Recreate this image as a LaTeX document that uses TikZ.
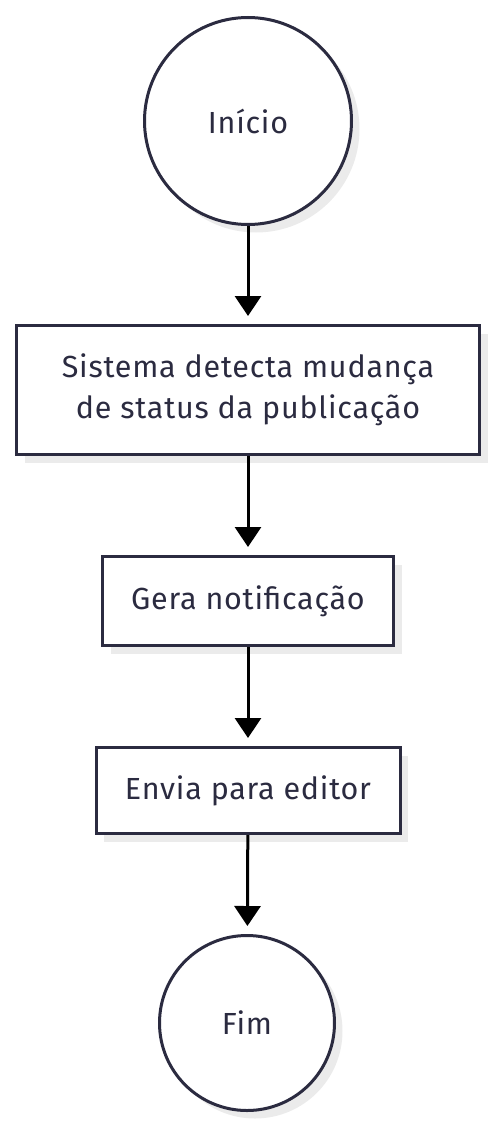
\documentclass[tikz,border=0pt]{standalone}
\usepackage{fontspec}
\setmainfont[LetterSpace=2.5]{Fira Sans}
\usetikzlibrary{arrows.meta,shadows}
\definecolor{ink}{HTML}{2B2B40}
\definecolor{shade}{HTML}{EBEBEB}
\tikzset{
  flow/.style={draw=ink,line width=3pt,fill=white,text=ink,align=center,
    font=\fontsize{30.5}{40.5}\selectfont,
    drop shadow={shadow xshift=8pt,shadow yshift=-8pt,fill=shade,opacity=1}},
  term/.style={flow,circle,inner sep=0pt},
  stepbox/.style={flow,rectangle,inner sep=0pt}
}
\begin{document}
\begin{tikzpicture}[x=1pt,y=1pt]
      \useasboundingbox (0,0) rectangle (496,-1129);
      \draw
        (248,-121) node[term,minimum size=207pt] (inicio){Início}
        (248,-390) node[stepbox,minimum width=463pt,minimum height=129pt] (detecta){Sistema detecta mudança\\de status da publicação}
        (248,-601) node[stepbox,minimum width=291pt,minimum height=89pt] (gera){Gera notificação}
        (248,-790.5) node[stepbox,minimum width=304pt,minimum height=86pt] (envia){Envia para editor}
        (247,-1023) node[term,minimum size=175pt] (fim){Fim};
      \begin{scope}[line width=3pt,-{Triangle[width=26pt,length=20pt]},shorten >=8pt]
        \draw (inicio) to (detecta);
        \draw (detecta) to (gera);
        \draw (gera) to (envia);
        \draw (envia) to (fim);
      \end{scope}
    \end{tikzpicture}
\end{document}
